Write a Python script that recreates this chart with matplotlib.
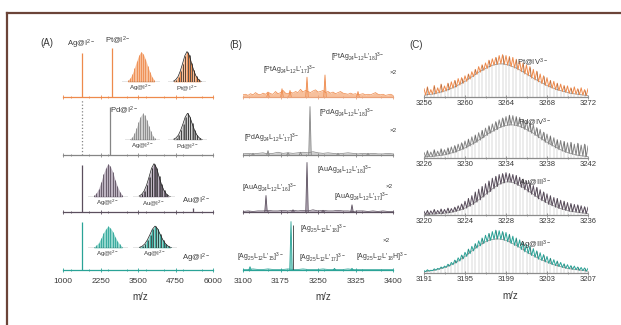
import numpy as np
import matplotlib
matplotlib.use("Agg")
import matplotlib.pyplot as plt
from matplotlib.lines import Line2D
from matplotlib.ticker import MultipleLocator, FixedLocator

plt.rcParams["font.family"] = ["Liberation Sans", "DejaVu Sans"]
plt.rcParams["mathtext.fontset"] = "custom"
plt.rcParams["mathtext.rm"] = "Liberation Sans"
plt.rcParams["mathtext.it"] = "Liberation Sans:italic"

W, H = 621, 325
TXT = "#3a3a3a"

# ---------------- data ----------------
ROW_COLORS = ["#ee8a4c", "#858585", "#5b4f5e", "#2aa397"]
ROW_FILLS = ["#f7c09c", "#cfcfcf", "#bdb3c0", "#92d6cc"]

# (A) wide-range spectra: sharp peaks (m/z, relative intensity)
a_peak_mz = [[1633, 2633], [1633, 2567], [1633, 5330], [1633]]
a_peak_int = [[0.77, 0.86], [0.96, 0.84], [0.82, 0.07], [0.84]]
a_ticks = [1000, 2250, 3500, 4750, 6000]
a_peak_labels = [["Ag@I$^{2-}$", "Pt@I$^{2-}$"], ["Pd@I$^{2-}$"], ["Au@I$^{2-}$"], ["Ag@I$^{2-}$"]]
inset_labels = [["Ag@I$^{2-}$", "Pt@I$^{2-}$"], ["Ag@I$^{2-}$", "Pd@I$^{2-}$"],
                ["Ag@I$^{2-}$", "Au@I$^{2-}$"], ["Ag@I$^{2-}$", "Ag@I$^{2-}$"]]
# isotope patterns shown in the small insets
iso_ag = [0.05, 0.12, 0.25, 0.45, 0.68, 0.88, 1.0, 0.92, 0.75, 0.52, 0.32, 0.16, 0.06]
iso_m = [0.03, 0.08, 0.18, 0.36, 0.6, 0.86, 1.0, 0.88, 0.62, 0.38, 0.2, 0.09, 0.03]

# (B) zoomed spectra 3100-3400
b_ticks = [3100, 3175, 3250, 3325, 3400]
b_noise = [
    [0.04, 0.05, 0.03, 0.06, 0.04, 0.08, 0.05, 0.04, 0.07, 0.05, 0.09, 0.06, 0.05, 0.1, 0.06, 0.08,
     0.12, 0.07, 0.06, 0.09, 0.07, 0.1, 0.08, 0.14, 0.09, 0.12, 0.1, 0.08, 0.11, 0.13, 0.09, 0.1,
     0.12, 0.08, 0.1, 0.07, 0.09, 0.06, 0.08, 0.1, 0.07, 0.06, 0.05, 0.07, 0.05, 0.06, 0.04, 0.05,
     0.06, 0.04, 0.05, 0.04, 0.06, 0.08, 0.05, 0.04, 0.05, 0.03, 0.04, 0.05, 0.03],
    [0.02, 0.03, 0.02, 0.03, 0.04, 0.02, 0.03, 0.05, 0.03, 0.04, 0.03, 0.04, 0.05, 0.04, 0.06, 0.04,
     0.03, 0.04, 0.03, 0.02, 0.03, 0.04, 0.03, 0.02, 0.03, 0.02, 0.03, 0.02, 0.02, 0.03, 0.02],
    [0.01, 0.02, 0.01, 0.02, 0.02, 0.03, 0.02, 0.02, 0.03, 0.02, 0.03, 0.02, 0.03, 0.02, 0.04, 0.02,
     0.03, 0.02, 0.02, 0.03, 0.02, 0.02, 0.01, 0.02, 0.02, 0.01, 0.02, 0.01, 0.02, 0.01, 0.01],
    [0.01, 0.01, 0.02, 0.01, 0.01, 0.02, 0.01, 0.01, 0.01, 0.02, 0.01, 0.01, 0.02, 0.01, 0.01, 0.01,
     0.02, 0.01, 0.01, 0.01, 0.01, 0.02, 0.01, 0.01, 0.01, 0.01, 0.01, 0.01, 0.01, 0.01, 0.01],
]
b_peak_mz = [[3150, 3178, 3194, 3228, 3264, 3330],
             [3120, 3150, 3190, 3215, 3234, 3290, 3350],
             [3146, 3200, 3228, 3260, 3318],
             [3114, 3196, 3283, 3318]]
b_peak_int = [[0.08, 0.15, 0.12, 0.36, 0.40, 0.10],
              [0.03, 0.08, 0.04, 0.05, 0.88, 0.03, 0.03],
              [0.30, 0.04, 0.90, 0.03, 0.13],
              [0.06, 0.88, 0.03, 0.03]]
b_labels = [
    ["[PtAg$_{24}$L$_{12}$L'$_{17}$]$^{3-}$", "[PtAg$_{24}$L$_{12}$L'$_{18}$]$^{3-}$"],
    ["[PdAg$_{24}$L$_{12}$L'$_{17}$]$^{3-}$", "[PdAg$_{24}$L$_{12}$L'$_{18}$]$^{3-}$"],
    ["[AuAg$_{24}$L$_{12}$L'$_{16}$]$^{3-}$", "[AuAg$_{24}$L$_{12}$L'$_{18}$]$^{3-}$",
     "[AuAg$_{24}$L$_{12}$L'$_{17}$]$^{3-}$"],
    ["[Ag$_{25}$L$_{12}$L'$_{18}$]$^{3-}$", "[Ag$_{25}$L$_{12}$L'$_{15}$]$^{3-}$",
     "[Ag$_{25}$L$_{12}$L'$_{17}$]$^{3-}$", "[Ag$_{25}$L$_{12}$L'$_{18}$H]$^{3-}$"],
]

# (C) isotope envelopes, peaks every 1/3 m/z
c_ranges = [(3256, 3272), (3226, 3242), (3220, 3236), (3191, 3207)]
c_names = ["Pt@IV$^{3-}$", "Pd@IV$^{3-}$", "Au@III$^{3-}$", "Ag@III$^{3-}$"]
c_exp = [
    [0.18, 0.22, 0.16, 0.25, 0.2, 0.28, 0.24, 0.3, 0.33, 0.36, 0.4, 0.42, 0.46, 0.5, 0.55, 0.6, 0.66,
     0.7, 0.74, 0.8, 0.83, 0.86, 0.9, 0.92, 0.9, 0.88, 0.86, 0.82, 0.78, 0.74, 0.7, 0.66, 0.6, 0.56,
     0.5, 0.46, 0.42, 0.36, 0.34, 0.3, 0.28, 0.25, 0.24, 0.2, 0.22, 0.18, 0.2, 0.16, 0.18],
    [0.12, 0.16, 0.13, 0.18, 0.15, 0.2, 0.18, 0.22, 0.24, 0.27, 0.3, 0.33, 0.37, 0.41, 0.46, 0.5, 0.55,
     0.6, 0.65, 0.7, 0.74, 0.79, 0.83, 0.87, 0.9, 0.93, 0.92, 0.9, 0.88, 0.84, 0.8, 0.76, 0.72, 0.66,
     0.62, 0.56, 0.52, 0.48, 0.44, 0.4, 0.38, 0.36, 0.33, 0.34, 0.3, 0.32, 0.28, 0.3, 0.26],
    [0.08, 0.1, 0.09, 0.12, 0.1, 0.13, 0.12, 0.15, 0.14, 0.17, 0.2, 0.24, 0.3, 0.36, 0.42, 0.5, 0.56,
     0.62, 0.68, 0.74, 0.8, 0.84, 0.88, 0.9, 0.92, 0.9, 0.88, 0.86, 0.82, 0.78, 0.74, 0.7, 0.64, 0.6,
     0.55, 0.5, 0.46, 0.42, 0.38, 0.36, 0.32, 0.3, 0.27, 0.25, 0.23, 0.22, 0.2, 0.18, 0.17],
    [0.05, 0.07, 0.06, 0.09, 0.1, 0.13, 0.15, 0.19, 0.23, 0.28, 0.33, 0.39, 0.45, 0.52, 0.58, 0.64,
     0.7, 0.76, 0.82, 0.86, 0.9, 0.93, 0.92, 0.9, 0.88, 0.84, 0.8, 0.76, 0.72, 0.67, 0.62, 0.58, 0.53,
     0.48, 0.44, 0.4, 0.36, 0.32, 0.29, 0.26, 0.23, 0.2, 0.18, 0.16, 0.15, 0.13, 0.12, 0.11, 0.1],
]
c_sim = [
    [0.04, 0.05, 0.06, 0.07, 0.09, 0.11, 0.13, 0.16, 0.19, 0.22, 0.26, 0.30, 0.34, 0.39, 0.44, 0.49,
     0.54, 0.58, 0.62, 0.66, 0.69, 0.71, 0.72, 0.72, 0.71, 0.69, 0.66, 0.63, 0.59, 0.55, 0.50, 0.46,
     0.41, 0.37, 0.33, 0.29, 0.25, 0.22, 0.19, 0.16, 0.14, 0.12, 0.10, 0.08, 0.07, 0.06, 0.05, 0.04, 0.03],
    [0.02, 0.03, 0.03, 0.04, 0.05, 0.06, 0.07, 0.09, 0.11, 0.13, 0.16, 0.19, 0.22, 0.26, 0.30, 0.34,
     0.39, 0.44, 0.49, 0.54, 0.58, 0.62, 0.66, 0.69, 0.71, 0.72, 0.72, 0.71, 0.69, 0.66, 0.62, 0.58,
     0.54, 0.49, 0.44, 0.39, 0.34, 0.30, 0.26, 0.22, 0.18, 0.15, 0.12, 0.10, 0.08, 0.06, 0.05, 0.04, 0.03],
    [0.01, 0.01, 0.02, 0.02, 0.03, 0.03, 0.04, 0.05, 0.06, 0.08, 0.10, 0.12, 0.15, 0.19, 0.23, 0.28,
     0.33, 0.39, 0.45, 0.51, 0.57, 0.62, 0.67, 0.70, 0.72, 0.72, 0.71, 0.68, 0.64, 0.60, 0.55, 0.50,
     0.45, 0.40, 0.35, 0.31, 0.27, 0.23, 0.20, 0.17, 0.14, 0.12, 0.10, 0.08, 0.07, 0.06, 0.05, 0.04, 0.03],
    [0.03, 0.04, 0.05, 0.06, 0.08, 0.10, 0.12, 0.15, 0.18, 0.22, 0.26, 0.31, 0.36, 0.42, 0.48, 0.54,
     0.59, 0.64, 0.68, 0.71, 0.73, 0.74, 0.74, 0.73, 0.71, 0.68, 0.64, 0.60, 0.56, 0.51, 0.46, 0.42,
     0.38, 0.34, 0.30, 0.27, 0.24, 0.21, 0.18, 0.16, 0.14, 0.12, 0.10, 0.09, 0.08, 0.07, 0.06, 0.05, 0.04],
]

# ---------------- layout (pixels) ----------------
ROW_BASE = [97, 155, 212, 270]
C_BASE = [97, 158, 215, 273]
A_X = (63, 213)
B_X = (243, 393)
C_X = (424, 588)
INSET_BOX = [[(122, 160, 50, 82), (168, 206, 50, 82)],
             [(125, 160, 112, 140), (168, 207, 112, 140)],
             [(88, 128, 162, 197), (133, 175, 162, 197)],
             [(88, 128, 225, 248), (133, 177, 225, 248)]]
A_LABEL_POS = [[(81, 44), (118, 40)], [(124, 110)], [(196, 200)], [(196, 258)]]
B_LABEL_POS = [[(290, 70), (358, 57)], [(272, 138), (347, 113)],
               [(270, 188), (345, 170), (362, 197)],
               [(323, 229), (260, 257), (322, 258), (382, 257)]]
X2_POS = [(393, 72), (393, 130), (389, 186), (386, 240)]
C_LABEL_POS = [(532, 62), (535, 122), (535, 182), (535, 245)]

fig = plt.figure(figsize=(W / 100, H / 100), dpi=100)
fig.patch.set_facecolor("white")


def px_axes(x0, x1, ytop, ybase):
    return fig.add_axes([x0 / W, 1 - ybase / H, (x1 - x0) / W, (ybase - ytop) / H])


def ptext(x, y, s, **kw):
    kw.setdefault("color", TXT)
    kw.setdefault("ha", "center")
    kw.setdefault("va", "center")
    fig.text(x / W, 1 - y / H, s, **kw)


def style_axis(ax, color, labels, pad=4):
    for side in ("left", "top", "right"):
        ax.spines[side].set_visible(False)
    ax.spines["bottom"].set_color(color)
    ax.spines["bottom"].set_linewidth(0.9)
    ax.set_yticks([])
    ax.patch.set_alpha(0)
    ax.tick_params(axis="x", which="both", direction="inout", colors=color,
                   labelcolor=TXT, labelsize=6, pad=pad, width=0.6)
    ax.tick_params(axis="x", which="major", length=3)
    ax.tick_params(axis="x", which="minor", length=2)
    if not labels:
        ax.tick_params(axis="x", labelbottom=False)


# ---- (A) ----
for r in range(4):
    ax = px_axes(A_X[0], A_X[1], ROW_BASE[r] - 57, ROW_BASE[r])
    ax.set_xlim(1000, 6000)
    ax.set_ylim(0, 1)
    for k, (mz, h) in enumerate(zip(a_peak_mz[r], a_peak_int[r])):
        ls = ":" if (r == 1 and k == 0) else "-"
        ax.vlines(mz, 0, h, color=ROW_COLORS[r], lw=0.9, ls=ls)
    ax.xaxis.set_major_locator(FixedLocator(a_ticks))
    ax.xaxis.set_minor_locator(MultipleLocator(625))
    style_axis(ax, ROW_COLORS[r], r == 3)
    for s, (x, y) in zip(a_peak_labels[r], A_LABEL_POS[r]):
        ptext(x, y, s, fontsize=5.5)
    for k in range(2):
        x0, x1, yt, yb = INSET_BOX[r][k]
        ia = px_axes(x0, x1, yt, yb)
        ia.axis("off")
        iso = iso_ag if k == 0 else iso_m
        pos = np.arange(len(iso))
        ia.set_xlim(-2.5, len(iso) + 1.5)
        ia.set_ylim(0, 1.05)
        ia.fill_between(pos, 0, iso, color=ROW_FILLS[r], lw=0)
        ia.vlines(pos, 0, iso, color=ROW_COLORS[r], lw=0.6)
        if k == 1:
            ia.vlines(pos + 0.3, 0, iso, color="#222222", lw=0.5)
            ia.plot(pos, iso, color="#222222", lw=0.5)
        ia.axhline(0, color="#333333", lw=0.9)
        ptext((x0 + x1) / 2, yb + 6, inset_labels[r][k], fontsize=4.5)

ptext(140, 297, "m/z", fontsize=7)
ptext(47, 43, "(A)", fontsize=7)

# ---- (B) ----
for r in range(4):
    ax = px_axes(B_X[0], B_X[1], ROW_BASE[r] - 55, ROW_BASE[r])
    ax.set_xlim(3100, 3400)
    ax.set_ylim(0, 1)
    noise = b_noise[r]
    nx = np.linspace(3100, 3400, len(noise))
    ax.fill_between(nx, 0, noise, color=ROW_FILLS[r], lw=0)
    ax.plot(nx, noise, color=ROW_COLORS[r], lw=0.5)
    for mz, h in zip(b_peak_mz[r], b_peak_int[r]):
        ax.fill([mz - 2.5, mz, mz + 2.5], [0, h, 0], color=ROW_FILLS[r], lw=0)
        ax.plot([mz - 2.5, mz, mz + 2.5], [0, h, 0], color=ROW_COLORS[r], lw=0.6)
    if r == 3:
        ax.vlines(b_peak_mz[r][1] + 3, 0, b_peak_int[r][1] * 0.92, color="#3a3a3a", lw=0.6)
    ax.xaxis.set_major_locator(FixedLocator(b_ticks))
    ax.xaxis.set_minor_locator(MultipleLocator(37.5))
    style_axis(ax, ROW_COLORS[r] if r != 0 else "#e9a27a", r == 3)
    for s, (x, y) in zip(b_labels[r], B_LABEL_POS[r]):
        ptext(x, y, s, fontsize=5)
    ptext(X2_POS[r][0], X2_POS[r][1], "×2", fontsize=4.5)

ptext(323, 297, "m/z", fontsize=7)
ptext(236, 45, "(B)", fontsize=7)

# ---- (C) ----
for r in range(4):
    ax = px_axes(C_X[0], C_X[1], C_BASE[r] - 46, C_BASE[r])
    lo, hi = c_ranges[r]
    ax.set_xlim(lo, hi)
    ax.set_ylim(0, 1)
    exp = np.array(c_exp[r])
    sim = np.array(c_sim[r])
    pos = np.linspace(lo, hi, len(exp))
    xs = np.empty(2 * len(pos) - 1)
    ys = np.empty(2 * len(pos) - 1)
    xs[0::2] = pos
    xs[1::2] = (pos[:-1] + pos[1:]) / 2
    ys[0::2] = exp
    ys[1::2] = np.minimum(sim[:-1], sim[1:])
    ax.vlines(pos, 0, sim, color="#555555", lw=0.35, alpha=0.45)
    ax.plot(pos, sim, color="#9a9a9a", lw=0.6)
    ax.plot(xs, ys, color=ROW_COLORS[r], lw=0.7)
    ax.vlines(pos[1::2], sim[1::2], exp[1::2], color="#333333", lw=0.4, alpha=0.55)
    ax.xaxis.set_major_locator(FixedLocator(range(lo, hi + 1, 4)))
    ax.xaxis.set_minor_locator(FixedLocator(range(lo, hi + 1, 2)))
    style_axis(ax, "#8c8c8c", True, pad=1)
    ax.tick_params(axis="x", labelsize=5.5)
    ptext(C_LABEL_POS[r][0], C_LABEL_POS[r][1], c_names[r], fontsize=5.5)

ptext(510, 296, "m/z", fontsize=7)
ptext(416, 45, "(C)", fontsize=7)

# ---- frame ----
FRAME = "#6b4438"
fig.add_artist(Line2D([7 / W, 1], [1 - 13 / H, 1 - 13 / H], color=FRAME, lw=1.6))
fig.add_artist(Line2D([7 / W, 7 / W], [1 - 13 / H, 0], color=FRAME, lw=1.6))

fig.savefig("out.png", dpi=100, facecolor="white")
